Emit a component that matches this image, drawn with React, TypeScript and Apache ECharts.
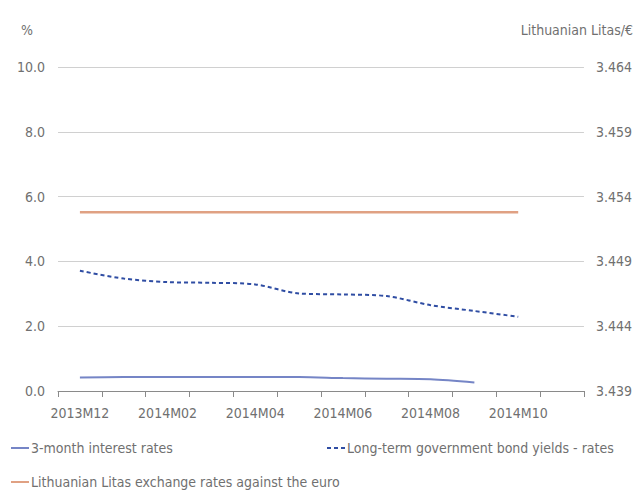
import React, { useEffect, useRef } from 'react';
import * as echarts from 'echarts';

const months = [
  '2013M12', '2014M01', '2014M02', '2014M03', '2014M04', '2014M05',
  '2014M06', '2014M07', '2014M08', '2014M09', '2014M10', '2014M11',
];
const threeMonthRates = [0.42, 0.43, 0.43, 0.43, 0.43, 0.43, 0.4, 0.38, 0.36, 0.26, null, null];
const bondYields = [3.71, 3.47, 3.36, 3.34, 3.29, 3.01, 2.98, 2.93, 2.65, 2.47, 2.29, null];
const litasPerEuro = [3.4528, 3.4528, 3.4528, 3.4528, 3.4528, 3.4528, 3.4528, 3.4528, 3.4528, 3.4528, 3.4528, null];

const seriesNames = [
  '3-month interest rates',
  'Long-term government bond yields - rates',
  'Lithuanian Litas exchange rates against the euro',
];

export default function App() {
  const ref = useRef<HTMLDivElement>(null);
  useEffect(() => {
    const chart = echarts.init(ref.current!, null, { renderer: 'svg' });
    const font = "'Liberation Sans Narrow', 'DejaVu Sans Condensed', sans-serif";
    const textColor = '#707070';
    const fs = 14;
    const legendCommon = {
      padding: 0,
      itemWidth: 18,
      itemHeight: 14,
      itemGap: 4,
      itemStyle: { opacity: 0 },
      textStyle: { color: textColor, fontSize: fs, fontFamily: font, padding: [0, 0, 0, -3] },
    };
    chart.setOption({
      animation: false,
      textStyle: { fontFamily: font },
      grid: { left: 58, right: 47, top: 67, bottom: 100, containLabel: false },
      graphic: [
        { type: 'text', left: 21, top: 23, style: { text: '%', fill: textColor, font: `${fs}px ${font}` } },
        { type: 'text', right: 2, top: 23, style: { text: 'Lithuanian Litas/€', fill: textColor, font: `${fs}px ${font}` } },
      ],
      legend: [
        { ...legendCommon, data: [seriesNames[0]], left: 10, top: 441 },
        { ...legendCommon, data: [seriesNames[1]], left: 326, top: 441 },
        { ...legendCommon, data: [seriesNames[2]], left: 10, top: 475 },
      ],
      xAxis: {
        type: 'category',
        data: months,
        boundaryGap: true,
        axisLine: { lineStyle: { color: '#8a8a8a', width: 1 } },
        axisTick: { show: true, interval: 0, length: 6, lineStyle: { color: '#8a8a8a' } },
        axisLabel: { interval: 1, margin: 15, fontSize: fs, color: textColor, fontFamily: font },
      },
      yAxis: [
        {
          type: 'value',
          min: 0,
          max: 10,
          interval: 2,
          axisLine: { show: false },
          axisTick: { show: false },
          splitLine: { lineStyle: { color: '#d0d0d0', width: 1 } },
          axisLabel: {
            margin: 13,
            fontSize: fs,
            color: textColor,
            fontFamily: font,
            formatter: (v: number) => v.toFixed(1),
          },
        },
        {
          type: 'value',
          position: 'right',
          min: 3.439,
          max: 3.464,
          interval: 0.005,
          axisLine: { show: false },
          axisTick: { show: false },
          splitLine: { show: false },
          axisLabel: {
            margin: 12,
            fontSize: fs,
            color: textColor,
            fontFamily: font,
            formatter: (v: number) => v.toFixed(3),
          },
        },
      ],
      series: [
        {
          name: seriesNames[0],
          type: 'line',
          yAxisIndex: 0,
          data: threeMonthRates,
          symbol: 'none',
          smooth: 0.3,
          color: '#7585c6',
          lineStyle: { color: '#7585c6', width: 2 },
        },
        {
          name: seriesNames[1],
          type: 'line',
          yAxisIndex: 0,
          data: bondYields,
          symbol: 'none',
          smooth: 0.3,
          color: '#2f4da3',
          lineStyle: { color: '#2f4da3', width: 2, type: [4, 3] },
        },
        {
          name: seriesNames[2],
          type: 'line',
          yAxisIndex: 1,
          data: litasPerEuro,
          symbol: 'none',
          color: '#e0a183',
          lineStyle: { color: '#e0a183', width: 2.5 },
        },
      ],
    });
    return () => chart.dispose();
  }, []);
  return <div ref={ref} style={{ position: 'absolute', left: 0, top: 0, width: 635, height: 491 }} />;
}
